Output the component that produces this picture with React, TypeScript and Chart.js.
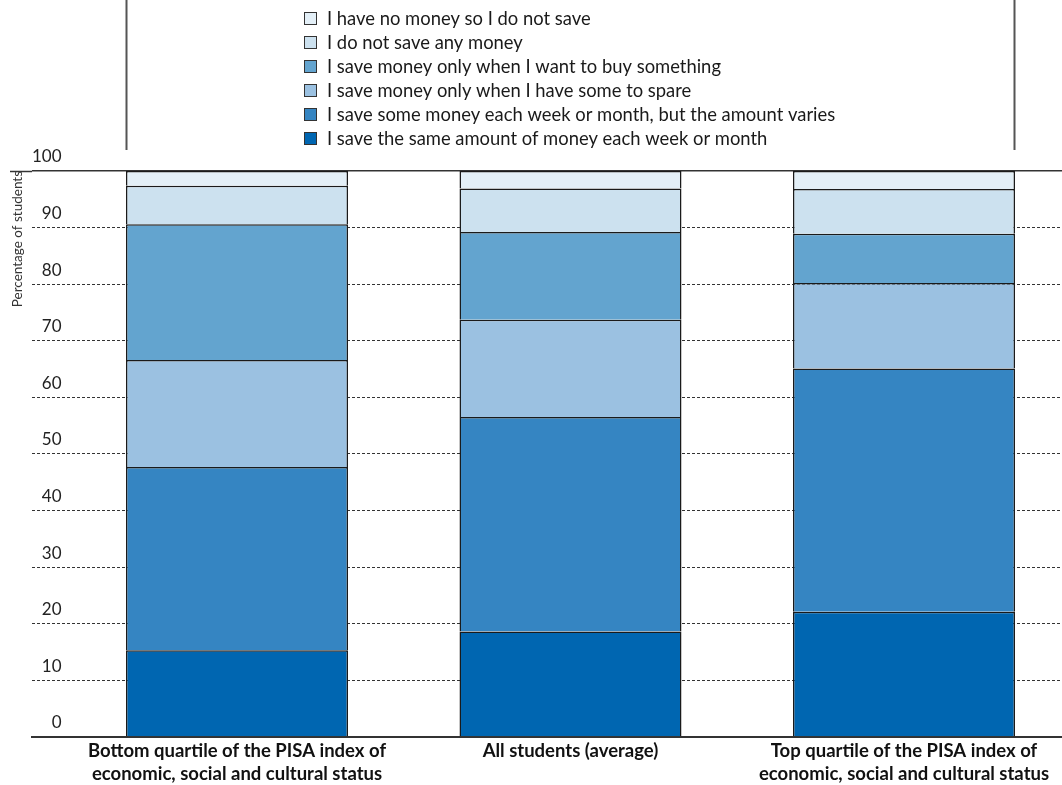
import React, { useEffect, useRef } from "react";
import { Chart, registerables } from "chart.js";

Chart.register(...registerables);

const CATEGORIES: (string | string[])[] = [
  ["Bottom quartile of the PISA index of", "economic, social and cultural status"],
  "All students (average)",
  ["Top quartile of the PISA index of", "economic, social and cultural status"],
];

const SERIES_LABELS = [
  "I save the same amount of money each week or month",
  "I save some money each week or month, but the amount varies",
  "I save money only when I have some to spare",
  "I save money only when I want to buy something",
  "I do not save any money",
  "I have no money so I do not save",
];

const SAME_AMOUNT = [15.3, 18.6, 22.1];
const AMOUNT_VARIES = [32.4, 37.9, 43.0];
const SOME_TO_SPARE = [18.9, 17.2, 15.1];
const WANT_TO_BUY = [24.0, 15.5, 8.7];
const DO_NOT_SAVE = [6.8, 7.7, 7.9];
const NO_MONEY = [2.6, 3.1, 3.2];

const SERIES_VALUES = [SAME_AMOUNT, AMOUNT_VARIES, SOME_TO_SPARE, WANT_TO_BUY, DO_NOT_SAVE, NO_MONEY];
const SERIES_COLORS = ["#0066b1", "#3585c2", "#9bc1e1", "#63a4cf", "#cce1ef", "#e3eff7"];

const Y_TICK_STEP = 10;

const FONT = "Lato";

const decorPlugin = {
  id: "decor",
  afterDraw(chart: any) {
    const ctx = chart.ctx as CanvasRenderingContext2D;
    const area = chart.chartArea;
    const yScale = chart.scales.y;
    ctx.save();
    // extension of top (100) line to the left
    const y100 = Math.round(yScale.getPixelForValue(100)) + 0.5;
    ctx.strokeStyle = "#333";
    ctx.lineWidth = 1.5;
    ctx.beginPath();
    ctx.moveTo(10, y100);
    ctx.lineTo(area.left, y100);
    ctx.stroke();

    // legend frame verticals at outer bar edges
    const meta = chart.getDatasetMeta(0);
    const first = meta.data[0] as any;
    const last = meta.data[meta.data.length - 1] as any;
    const lx = Math.round(first.x - first.width / 2) + 0.5;
    const rx = Math.round(last.x + last.width / 2) - 0.5;
    ctx.strokeStyle = "#555";
    ctx.lineWidth = 2;
    ctx.beginPath();
    ctx.moveTo(lx, 0);
    ctx.lineTo(lx, area.top - 21);
    ctx.moveTo(rx, 0);
    ctx.lineTo(rx, area.top - 21);
    ctx.stroke();

    // legend (one item per row, top series first)
    const ds = chart.data.datasets;
    const n = ds.length;
    const rowTop = 19;
    const rowStep = 24;
    ctx.font = `18.4px ${FONT}`;
    ctx.textAlign = "left";
    ctx.textBaseline = "middle";
    for (let k = 0; k < n; k++) {
      const d = ds[n - 1 - k];
      const cy = Math.round(rowTop + k * rowStep);
      ctx.fillStyle = d.backgroundColor as string;
      ctx.fillRect(304.5, cy - 6.5, 12, 12);
      ctx.strokeStyle = "#333";
      ctx.lineWidth = 1;
      ctx.strokeRect(304.5, cy - 6.5, 12, 12);
      ctx.fillStyle = "#1a1a1a";
      ctx.fillText(d.label as string, 327, cy);
    }
    ctx.restore();
  },
};

export default function App() {
  const canvasRef = useRef<HTMLCanvasElement | null>(null);

  useEffect(() => {
    if (!canvasRef.current) return;
    const datasets = SERIES_LABELS.map((label, s) => ({
      label,
      data: CATEGORIES.map((_, i) => ({ x: i, y: SERIES_VALUES[s][i] })),
      backgroundColor: SERIES_COLORS[s],
      borderColor: "#1a1a1a",
      borderWidth: 1.5,
      categoryPercentage: 1,
      barPercentage: 0.6657,
    }));

    const chart = new Chart(canvasRef.current, {
      type: "bar",
      data: { datasets } as any,
      plugins: [decorPlugin],
      options: {
        responsive: false,
        animation: false,
        layout: { padding: { top: 171, left: 0, right: 0, bottom: -4 } },
        plugins: {
          legend: { display: false },
          tooltip: { enabled: false },
        },
        scales: {
          x: {
            type: "linear",
            stacked: true,
            offset: false,
            min: -0.6147,
            max: 2.4738,
            afterBuildTicks: (s: any) => {
              s.ticks = CATEGORIES.map((_, i) => ({ value: i }));
            },
            grid: { display: false, drawTicks: false, offset: false },
            border: { display: true, color: "#333", width: 2 },
            ticks: {
              autoSkip: false,
              maxRotation: 0,
              padding: 3,
              color: "#111",
              font: { family: FONT, size: 18.5, weight: "bold", lineHeight: 1.25 },
              callback: (v: any) => CATEGORIES[v as number] as any,
            },
          },
          y: {
            stacked: true,
            min: 0,
            max: 100,
            afterFit: (s: any) => {
              s.width = 32;
            },
            ticks: {
              stepSize: Y_TICK_STEP,
              mirror: true,
              crossAlign: "far",
              padding: 0,
              labelOffset: -14,
              color: "#222",
              font: { family: FONT, size: 17 },
            },
            grid: {
              drawTicks: false,
              color: "#333",
              lineWidth: (c: any) => (c.tick && c.tick.value === 100 ? 1.5 : 1),
            },
            border: {
              display: false,
              dash: (c: any) => (c.tick && c.tick.value === 100 ? [] : [3, 2]),
            },
            title: {
              display: true,
              text: "Percentage of students",
              align: "end",
              color: "#333",
              font: { family: FONT, size: 13.5 },
              padding: { top: 10, bottom: 0 },
            },
          },
        },
      } as any,
    });
    return () => chart.destroy();
  }, []);

  return (
    <div style={{ position: "absolute", left: 0, top: 0, width: 1062, height: 785, background: "#fff" }}>
      <canvas ref={canvasRef} width={1062} height={785} style={{ display: "block" }} />
    </div>
  );
}
